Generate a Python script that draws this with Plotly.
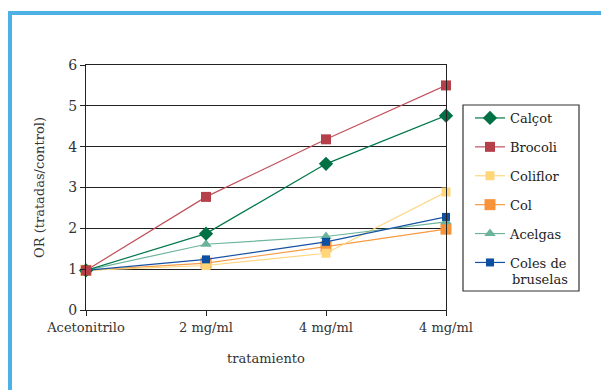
import plotly.graph_objects as go

# Treatment levels along the x axis (two columns share the same label)
tratamientos = ["Acetonitrilo", "2 mg/ml", "4 mg/ml", "4 mg/ml"]
posiciones = [0, 1, 2, 3]

# Odds ratio (treated / control) per vegetable extract
calcot = [0.97, 1.87, 3.58, 4.76]
brocoli = [0.97, 2.77, 4.18, 5.50]
coliflor = [0.97, 1.09, 1.39, 2.89]
col = [0.97, 1.15, 1.55, 1.98]
acelgas = [0.97, 1.61, 1.80, 2.16]
coles_bruselas = [0.97, 1.24, 1.67, 2.28]

FONT = "DejaVu Serif"

# name, values, line colour, marker colour, symbol, size, legend rank
series = [
    ("Col", col, "#F79A45", "#F7943A", "square", 11, 4),
    ("Coliflor", coliflor, "#FFD780", "#FFD77A", "square", 9, 3),
    ("Acelgas", acelgas, "#6DB59C", "#6BB39A", "triangle-up", 10, 5),
    ("Coles de", coles_bruselas, "#1652A3", "#0D4FA0", "square", 8, 6),
    ("Calçot", calcot, "#00784A", "#007045", "diamond", 11, 1),
    ("Brocoli", brocoli, "#C0505A", "#B5404A", "square", 10, 2),
]

fig = go.Figure()
for name, vals, lc, mc, sym, size, rank in series:
    fig.add_trace(go.Scatter(
        x=posiciones, y=vals, name=name, mode="lines+markers",
        line=dict(color=lc, width=1.2),
        marker=dict(symbol=sym, size=size, color=mc, line=dict(width=0)),
        legendrank=rank, legendgroup=name, cliponaxis=False,
    ))


def px_x(px):
    return (px - 86) / 360


def px_y(py):
    return (310 - py) / 245


axis_color = "#222222"
fig.update_layout(
    width=601, height=390,
    margin=dict(l=86, r=155, t=65, b=80),
    paper_bgcolor="white", plot_bgcolor="white",
    font=dict(family=FONT, size=13, color="#333333"),
    showlegend=True,
    legend=dict(
        x=px_x(470), y=px_y(103), xanchor="left", yanchor="top",
        borderwidth=0, bgcolor="rgba(0,0,0,0)",
        font=dict(family=FONT, size=13, color="#222222"),
        tracegroupgap=9, itemwidth=30,
    ),
    xaxis=dict(
        range=[0, 3], tickmode="array", tickvals=posiciones, ticktext=tratamientos,
        showgrid=False, zeroline=False,
        showline=True, linecolor=axis_color, linewidth=1, mirror=True,
        ticks="outside", ticklen=5, tickcolor=axis_color,
        tickfont=dict(family=FONT, size=13, color="#333333"),
        title=dict(text="tratamiento", standoff=20,
                   font=dict(family=FONT, size=13, color="#333333")),
    ),
    yaxis=dict(
        range=[0, 6], dtick=1,
        showgrid=True, gridcolor=axis_color, gridwidth=1, zeroline=False,
        showline=True, linecolor=axis_color, linewidth=1, mirror=True,
        ticks="outside", ticklen=5, tickcolor=axis_color,
        tickfont=dict(family=FONT, size=14, color="#333333"),
        title=dict(text="OR (tratadas/control)", standoff=20,
                   font=dict(family=FONT, size=13, color="#333333")),
    ),
)

# Legend frame
fig.add_shape(type="rect", xref="paper", yref="paper",
              x0=px_x(463), x1=px_x(579), y0=px_y(291), y1=px_y(105),
              line=dict(color="#333333", width=1.2), fillcolor="rgba(0,0,0,0)")

# Second line of the last legend entry
fig.add_annotation(text="bruselas", xref="paper", yref="paper",
                   x=px_x(510), y=px_y(279), xanchor="left", yanchor="middle",
                   showarrow=False, font=dict(family=FONT, size=13, color="#222222"))

# Blue page frame along the top and left edges
frame_color = "#4DB1E6"
fig.add_shape(type="line", xref="paper", yref="paper",
              x0=px_x(8), x1=px_x(601), y0=px_y(13), y1=px_y(13),
              line=dict(color=frame_color, width=4))
fig.add_shape(type="line", xref="paper", yref="paper",
              x0=px_x(10), x1=px_x(10), y0=px_y(11), y1=px_y(392),
              line=dict(color=frame_color, width=4))

fig.write_html("out.html")
